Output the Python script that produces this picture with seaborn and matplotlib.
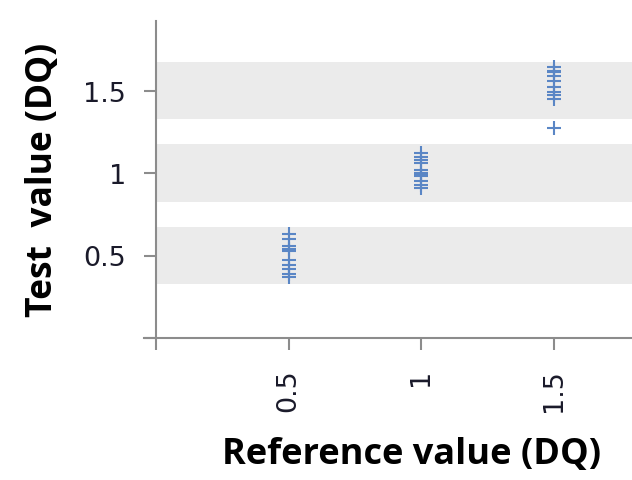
import numpy as np
import pandas as pd
import matplotlib
matplotlib.use("Agg")
import matplotlib.pyplot as plt
import seaborn as sns

# Measured test values for each reference level (DQ)
ref_levels = [0.5, 1.0, 1.5]
test_at_05 = [0.63, 0.60, 0.56, 0.54, 0.53, 0.47, 0.44, 0.42, 0.39, 0.37]
test_at_10 = [1.12, 1.10, 1.08, 1.06, 1.02, 1.00, 0.99, 0.98, 0.95, 0.93, 0.91]
test_at_15 = [1.64, 1.62, 1.61, 1.59, 1.56, 1.52, 1.49, 1.47, 1.45, 1.27]
tolerance = 0.175  # half-width of the acceptance band around each level
tick_values = [0.5, 1.0, 1.5]
tick_labels = ["0.5", "1", "1.5"]

df = pd.DataFrame({
    "ref": [0.5] * len(test_at_05) + [1.0] * len(test_at_10) + [1.5] * len(test_at_15),
    "test": test_at_05 + test_at_10 + test_at_15,
})

sns.set_theme(style="white")
plt.rcParams["font.family"] = ["DejaVu Sans"]

fig = plt.figure(figsize=(6.32, 4.81), dpi=100)
ax = fig.add_axes([156 / 632, 142 / 481, 476 / 632, 317 / 481])

xmax = 476 / 265
ymax = 317 / 165
ax.set_xlim(0, xmax)
ax.set_ylim(0, ymax)

# acceptance bands
for lvl in ref_levels:
    ax.axhspan(lvl - tolerance, lvl + tolerance, color="#ebebeb", lw=0, zorder=0)

sns.scatterplot(data=df, x="ref", y="test", marker="+", s=105, color="#5a86c5",
                linewidth=1.5, ax=ax, zorder=3, legend=False)

ax.set_xticks([0] + tick_values)
ax.set_xticklabels([""] + tick_labels, fontfamily="DejaVu Sans")
ax.set_yticks([0] + tick_values)
ax.set_yticklabels([""] + tick_labels, fontfamily="DejaVu Sans")

for side in ["top", "right"]:
    ax.spines[side].set_visible(False)
for side in ["left", "bottom"]:
    ax.spines[side].set_color("#8c8c8c")
    ax.spines[side].set_linewidth(1.5)
ax.spines["bottom"].set_bounds(-12 / 265, xmax)
ax.spines["bottom"].set_clip_on(False)

ax.tick_params(axis="both", bottom=True, left=True, direction="out", length=8.5,
               width=1.5, color="#8c8c8c", labelsize=19.5, labelcolor="#1a1a2a")
ax.tick_params(axis="x", labelrotation=90, pad=13)
ax.tick_params(axis="y", pad=13)

ax.set_xlabel("")
ax.set_ylabel("")
fig.text(412 / 632, 1 - 455 / 481, "Reference value (DQ)", ha="center", va="center",
         fontsize=26, fontweight="bold", family=["Open Sans", "DejaVu Sans"], color="#000000")
fig.text(43 / 632, 1 - 180 / 481, "Test  value (DQ)", ha="center", va="center",
         rotation=90, fontsize=25.5, fontweight="bold", family=["Open Sans", "DejaVu Sans"],
         color="#000000")

fig.savefig("out.png", dpi=100)
